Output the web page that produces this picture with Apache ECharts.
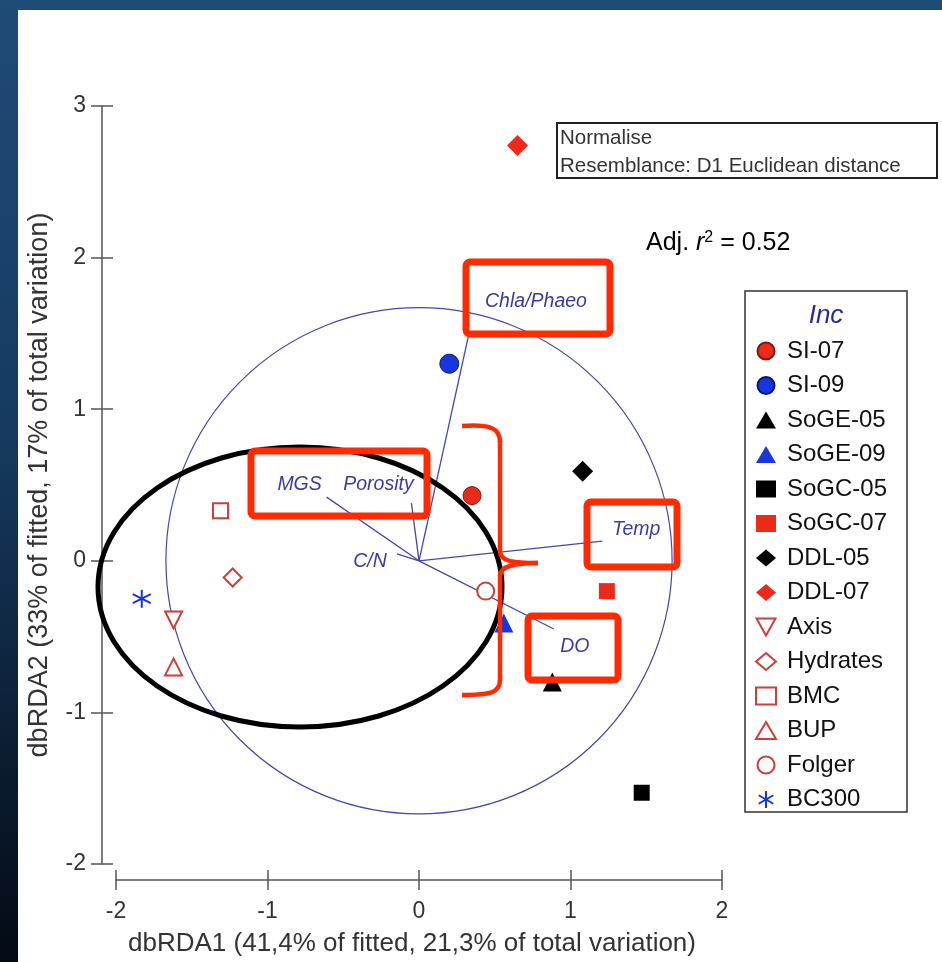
<!DOCTYPE html>
<html>
<head>
<meta charset="utf-8">
<script src="https://cdn.jsdelivr.net/npm/echarts@6/dist/echarts.min.js"></script>
<style>
  html, body { margin: 0; padding: 0; width: 942px; height: 962px; overflow: hidden;
    background: linear-gradient(to bottom, #1f4b77 0%, #163a60 45%, #040a14 100%); }
  #panel { position: absolute; left: 18px; top: 10px; right: 0; bottom: 0; background: #fff; }
  #chart { position: absolute; left: 0; top: 0; width: 942px; height: 962px; }
</style>
</head>
<body>
<div id="panel"></div>
<div id="chart"></div>
<script>
// ---- data ----
const groups  = ['SI-07','SI-09','SoGE-05','SoGE-09','SoGC-05','SoGC-07','DDL-05','DDL-07','Axis','Hydrates','BMC','BUP','Folger','BC300'];
const dbRDA1  = [0.35, 0.20, 0.88, 0.56, 1.47, 1.24, 1.08, 0.65, -1.62, -1.23, -1.31, -1.62, 0.44, -1.83];
const dbRDA2  = [0.43, 1.30, -0.80, -0.41, -1.53, -0.20, 0.59, 2.74, -0.39, -0.11, 0.33, -0.70, -0.20, -0.25];

const vectorNames = ['Chla/Phaeo','Temp','DO','MGS','Porosity','C/N'];
const vectorX     = [0.33, 1.21, 0.89, -0.61, -0.05, -0.145];
const vectorY     = [1.50, 0.13, -0.45, 0.42, 0.38, 0.046];
const circleRadius = 1.67;

const xTicks = [-2, -1, 0, 1, 2];
const yTicks = [-2, -1, 0, 1, 2, 3];
const xTitle = 'dbRDA1 (41,4% of fitted, 21,3% of total variation)';
const yTitle = 'dbRDA2 (33% of fitted, 17% of total variation)';

// ---- styles ----
const RED = '#ec2a1c', BLUE = '#1636e0', OPEN = '#c9403a';
const asterisk = 'path://M0,-10L0,10M-8.66,-5L8.66,5M-8.66,5L8.66,-5';
const downTriangle = 'path://M0,0L10,0L5,9Z';
const styles = {
  'SI-07':   { symbol: 'circle',   size: 18, item: { color: RED, borderColor: '#7a1a10', borderWidth: 1 } },
  'SI-09':   { symbol: 'circle',   size: 19, item: { color: BLUE, borderColor: '#0a1670', borderWidth: 1 } },
  'SoGE-05': { symbol: 'triangle', size: 19, item: { color: '#000' } },
  'SoGE-09': { symbol: 'triangle', size: 19, item: { color: BLUE } },
  'SoGC-05': { symbol: 'rect',     size: 16, item: { color: '#000' } },
  'SoGC-07': { symbol: 'rect',     size: 16, item: { color: RED } },
  'DDL-05':  { symbol: 'diamond',  size: 21, item: { color: '#000' } },
  'DDL-07':  { symbol: 'diamond',  size: 21, item: { color: RED } },
  'Axis':    { symbol: downTriangle, size: 17, item: { color: '#fff', borderColor: OPEN, borderWidth: 2 } },
  'Hydrates':{ symbol: 'diamond',  size: 18, item: { color: '#fff', borderColor: OPEN, borderWidth: 2 } },
  'BMC':     { symbol: 'rect',     size: 15, item: { color: '#fff', borderColor: OPEN, borderWidth: 2 } },
  'BUP':     { symbol: 'triangle', size: 17, item: { color: '#fff', borderColor: OPEN, borderWidth: 2 } },
  'Folger':  { symbol: 'circle',   size: 17, item: { color: '#fff', borderColor: OPEN, borderWidth: 2 } },
  'BC300':   { symbol: asterisk,   size: 18, item: { color: 'none', borderColor: BLUE, borderWidth: 2 } }
};
// label offsets (px) relative to vector tips
const labelOffsets = { 'Chla/Phaeo': [67, -32], 'Temp': [34, -12], 'DO': [21, 18], 'MGS': [-27, -13], 'Porosity': [-33, -19], 'C/N': [-27, 8] };
const VEC = '#4646aa';
const FONT = 'Liberation Sans, Arial, sans-serif';

const chart = echarts.init(document.getElementById('chart'), null, { renderer: 'canvas' });

const scatterSeries = groups.map((g, i) => {
  const s = styles[g];
  return {
    name: g, type: 'scatter', z: 5,
    symbol: s.symbol, symbolSize: s.size,
    itemStyle: Object.assign({ opacity: 1 }, s.item),
    data: [[dbRDA1[i], dbRDA2[i]]]
  };
});

const grid = { left: 116, top: 106, width: 606, height: 760 };

const lineStyle = { color: '#555', width: 1.5 };
const RB = '#ff2a00';
const bracket = [
  { type: 'bezierCurve', z: 61, shape: { x1: 462, y1: 426, x2: 500, y2: 442, cpx1: 490, cpy1: 424, cpx2: 500, cpy2: 428 }, style: { fill: 'none', stroke: RB, lineWidth: 4.5 } },
  { type: 'line', z: 61, shape: { x1: 500, y1: 441, x2: 500, y2: 552 }, style: { stroke: RB, lineWidth: 4.5 } },
  { type: 'bezierCurve', z: 61, shape: { x1: 500, y1: 551, x2: 538, y2: 563, cpx1: 500, cpy1: 562, cpx2: 515, cpy2: 563 }, style: { fill: 'none', stroke: RB, lineWidth: 4.5 } },
  { type: 'bezierCurve', z: 61, shape: { x1: 538, y1: 563, x2: 500, y2: 576, cpx1: 515, cpy1: 563, cpx2: 500, cpy2: 566 }, style: { fill: 'none', stroke: RB, lineWidth: 4.5 } },
  { type: 'line', z: 61, shape: { x1: 500, y1: 575, x2: 500, y2: 681 }, style: { stroke: RB, lineWidth: 4.5 } },
  { type: 'bezierCurve', z: 61, shape: { x1: 500, y1: 680, x2: 462, y2: 695, cpx1: 500, cpy1: 693, cpx2: 490, cpy2: 695 }, style: { fill: 'none', stroke: RB, lineWidth: 4.5 } }
];

const option = {
  animation: false,
  backgroundColor: 'transparent',
  grid: grid,
  xAxis: [
    {
      type: 'value', min: -2, max: 2, interval: 1, position: 'bottom', offset: 16,
      axisLine: { show: true, onZero: false, lineStyle: lineStyle },
      splitLine: { show: false },
      axisTick: { show: true, length: 10, lineStyle: lineStyle },
      axisLabel: { fontSize: 23, color: '#333', fontFamily: FONT, margin: 20,
        formatter: v => xTicks.includes(v) ? String(v) : '' },
      name: xTitle, nameLocation: 'middle', nameGap: 51,
      nameTextStyle: { fontSize: 26, color: '#333', fontFamily: FONT, padding: [0, 14, 0, 0] }
    },
    {
      type: 'value', min: -2, max: 2, interval: 1, position: 'bottom', offset: 16,
      axisLine: { show: false, onZero: false },
      splitLine: { show: false },
      axisTick: { show: true, inside: true, length: 10, lineStyle: lineStyle },
      axisLabel: { show: false }
    }
  ],
  yAxis: [
    {
      type: 'value', min: -2, max: 3, interval: 1, position: 'left', offset: 14,
      axisLine: { show: true, onZero: false, lineStyle: lineStyle },
      splitLine: { show: false },
      axisTick: { show: true, length: 11, lineStyle: lineStyle },
      axisLabel: { fontSize: 23, color: '#333', fontFamily: FONT, margin: 16,
        formatter: v => yTicks.includes(v) ? String(v) : '' },
      name: yTitle, nameLocation: 'middle', nameGap: 49,
      nameTextStyle: { fontSize: 27, color: '#333', fontFamily: FONT }
    },
    {
      type: 'value', min: -2, max: 3, interval: 1, position: 'left', offset: 14,
      axisLine: { show: false, onZero: false },
      splitLine: { show: false },
      axisTick: { show: true, inside: true, length: 11, lineStyle: lineStyle },
      axisLabel: { show: false }
    }
  ],
  legend: {
    orient: 'vertical', left: 755, top: 339, padding: 0,
    itemWidth: 20, itemHeight: 17, itemGap: 10.5,
    textStyle: { fontSize: 24, color: '#111', fontFamily: FONT, lineHeight: 24, padding: [0, 0, 0, 6] },
    data: groups
  },
  series: [
    {
      type: 'custom', name: 'circle', z: 1, silent: true,
      data: [[0, 0, circleRadius]],
      renderItem: (params, api) => {
        const c = api.coord([api.value(0), api.value(1)]);
        const r = api.size([api.value(2), api.value(2)]);
        return { type: 'circle', shape: { cx: c[0], cy: c[1], r: (r[0] + r[1]) / 2 },
          style: { fill: 'none', stroke: VEC, lineWidth: 1.2 } };
      }
    },
    {
      type: 'custom', name: 'vectors', z: 2, silent: true,
      data: vectorNames.map((n, i) => [vectorX[i], vectorY[i], i]),
      renderItem: (params, api) => {
        const o = api.coord([0, 0]);
        const p = api.coord([api.value(0), api.value(1)]);
        const name = vectorNames[api.value(2)];
        const off = labelOffsets[name];
        return { type: 'group', children: [
          { type: 'line', shape: { x1: o[0], y1: o[1], x2: p[0], y2: p[1] },
            style: { stroke: VEC, lineWidth: 1.3 } },
          { type: 'text', x: p[0] + off[0], y: p[1] + off[1],
            style: { text: name, fill: '#3a3aa6', font: 'italic 19.5px ' + FONT, align: 'center', verticalAlign: 'middle' } }
        ]};
      }
    }
  ].concat(scatterSeries),
  graphic: [
    { type: 'rect', z: 50, shape: { x: 557, y: 123, width: 380, height: 55 },
      style: { fill: '#fff', stroke: '#222', lineWidth: 2 } },
    { type: 'text', z: 51, x: 560, y: 138, style: { text: 'Normalise', font: '20.5px ' + FONT, fill: '#333', verticalAlign: 'middle' } },
    { type: 'text', z: 51, x: 560, y: 166, style: { text: 'Resemblance: D1 Euclidean distance', font: '20.5px ' + FONT, fill: '#333', verticalAlign: 'middle' } },
    { type: 'text', z: 51, x: 646, y: 243, style: {
        text: '{n|Adj. }{i|r}{s|2}{n| = 0.52}', verticalAlign: 'middle',
        rich: { n: { font: '25px ' + FONT, fill: '#000' }, i: { font: 'italic 25px ' + FONT, fill: '#000' },
                s: { font: '16px ' + FONT, fill: '#000', verticalAlign: 'top', padding: [0, 0, 10, 0] } } } },
    { type: 'rect', z: 0, shape: { x: 745, y: 291, width: 162, height: 521 },
      style: { fill: 'none', stroke: '#333', lineWidth: 1.5 } },
    { type: 'text', z: 51, x: 826, y: 316, style: { text: 'Inc', font: 'italic 26px ' + FONT, fill: '#2828a0', align: 'center', verticalAlign: 'middle' } },
    { type: 'ellipse', z: 60, shape: { cx: 300, cy: 587, rx: 202, ry: 140 },
      style: { fill: 'none', stroke: '#000', lineWidth: 5 } },
    { type: 'rect', z: 61, shape: { x: 466, y: 262, width: 144, height: 72, r: 4 }, style: { fill: 'none', stroke: RB, lineWidth: 7 } },
    { type: 'rect', z: 61, shape: { x: 251, y: 451, width: 176, height: 65, r: 4 }, style: { fill: 'none', stroke: RB, lineWidth: 7 } },
    { type: 'rect', z: 61, shape: { x: 587, y: 502, width: 90, height: 65, r: 4 }, style: { fill: 'none', stroke: RB, lineWidth: 7 } },
    { type: 'rect', z: 61, shape: { x: 528, y: 616, width: 90, height: 64, r: 4 }, style: { fill: 'none', stroke: RB, lineWidth: 7 } }
  ].concat(bracket)
};
chart.setOption(option);
</script>
</body>
</html>
